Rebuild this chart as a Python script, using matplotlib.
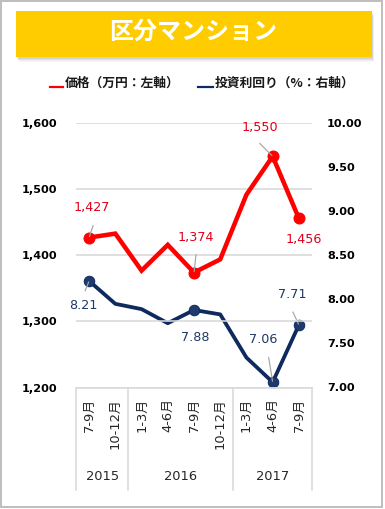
import matplotlib
matplotlib.use("Agg")
import matplotlib.pyplot as plt
import matplotlib.patches as patches
from matplotlib.lines import Line2D

W, H = 385, 509
DPI = 72

months = ["7-9月", "10-12月", "1-3月", "4-6月", "7-9月", "10-12月",
          "1-3月", "4-6月", "7-9月"]
years = ["2015", "2016", "2017"]
year_first = [0, 2, 6]
year_last = [1, 5, 8]
price = [1427, 1433, 1377, 1416, 1374, 1394, 1492, 1550, 1456]
yields = [8.21, 7.95, 7.89, 7.73, 7.88, 7.83, 7.34, 7.06, 7.71]

price_ticks = [1200, 1300, 1400, 1500, 1600]
yield_ticks = [7.0, 7.5, 8.0, 8.5, 9.0, 9.5, 10.0]

# labelled points: index -> (text offset, leader end offset) in points (= px)
price_lab = {0: ((3, 30), (4, 12)), 4: ((2, 35), (2, 18)),
             7: ((-13, 29), (-13, 13)), 8: ((5, -21), None)}
yield_lab = {0: ((-6, -25), (-4, -10)), 4: ((1, -27), None),
             7: ((-9, 43), (-4, 25)), 8: ((-7, 30), (-6, 13))}

RED = "#FF0000"
NAVY = "#0E2A5E"
GRID = "#D9D9D9"

plt.rcParams["font.family"] = ["DejaVu Sans", "Noto Sans CJK JP"]

def fx(x):
    return x / W

def fy(y):
    return 1 - y / H

fig = plt.figure(figsize=(W / DPI, H / DPI), dpi=DPI)
fig.patch.set_facecolor("white")

# outer frame
fig.add_artist(patches.Rectangle((fx(1), fy(507)), fx(381), 506 / H,
                                 transform=fig.transFigure, fill=False,
                                 edgecolor="#BFBFBF", lw=2))

# title box with soft shadow
for k, a in [(5, 0.06), (4, 0.08), (3, 0.10), (2, 0.14)]:
    fig.add_artist(patches.Rectangle((fx(16 + k / 2), fy(56.7 + k)), fx(355.7), 45.7 / H,
                                     transform=fig.transFigure, facecolor="#808080",
                                     edgecolor="none", alpha=a))
fig.add_artist(patches.Rectangle((fx(16), fy(56.7)), fx(355.7), 45.7 / H,
                                 transform=fig.transFigure, facecolor="#FFCC00",
                                 edgecolor="none"))
fig.text(fx(193.5), fy(32), "区分マンション", color="white", fontsize=24,
         fontweight="bold", family=["Noto Sans CJK JP"], ha="center", va="center")

# legend
fig.add_artist(Line2D([fx(50), fx(63)], [fy(87), fy(87)], color=RED, lw=2.2,
                      transform=fig.transFigure))
fig.text(fx(65), fy(83), "価格（万円：左軸）", fontsize=12.8, fontweight="bold",
         family=["Noto Sans CJK JP"], color="#1A1A1A", ha="left", va="center")
fig.add_artist(Line2D([fx(198), fx(213)], [fy(87), fy(87)], color=NAVY, lw=2.2,
                      transform=fig.transFigure))
fig.text(fx(215), fy(83), "投資利回り（%：右軸）", fontsize=12.8, fontweight="bold",
         family=["Noto Sans CJK JP"], color="#1A1A1A", ha="left", va="center")

# plot area
top, bottom = 123.3, 387.5
ax = fig.add_axes([fx(76), fy(bottom), (312 - 76) / W, (bottom - top) / H])
ax2 = ax.twinx()
ax.set_zorder(2)
ax2.set_zorder(1)
ax.patch.set_visible(False)

x = list(range(len(months)))
ax.set_xlim(-0.5, len(months) - 0.5)
ax.set_ylim(price_ticks[0], price_ticks[-1])
ax2.set_ylim(yield_ticks[0], yield_ticks[-1])

ax.set_yticks(price_ticks)
ax.set_yticklabels([f"{v:,}" for v in price_ticks])
ax2.set_yticks(yield_ticks)
ax2.set_yticklabels([f"{v:.2f}" for v in yield_ticks])
ax.yaxis.grid(True, color=GRID, lw=1.6)
ax.set_axisbelow(True)
ax.tick_params(axis="y", length=0, pad=18.5, labelsize=11.3, labelcolor="black")
ax2.tick_params(axis="y", length=0, pad=15, labelsize=11.3, labelcolor="black")
for t in ax.get_yticklabels() + ax2.get_yticklabels():
    t.set_fontweight("bold")

for a in (ax, ax2):
    for s in a.spines.values():
        s.set_visible(False)
ax.spines["bottom"].set_visible(True)
ax.spines["bottom"].set_color(GRID)
ax.spines["bottom"].set_linewidth(1.6)

ax.set_xticks(x)
ax.set_xticklabels(months, rotation=90, fontsize=13, color="#262626")
ax.tick_params(axis="x", length=0, pad=10.5)
ax2.tick_params(axis="x", length=0)

# category separators and year labels
xt = ax.get_xaxis_transform()
drop = (490 - bottom) / (bottom - top)
for b in [year_first[0] - 0.5] + [l + 0.5 for l in year_last]:
    ax.plot([b, b], [0, -drop], color=GRID, lw=1.6, transform=xt, clip_on=False)
for yr, f, l in zip(years, year_first, year_last):
    ax.text((f + l) / 2, -(477 - bottom) / (bottom - top), yr, transform=xt,
            ha="center", va="center", fontsize=13, color="#262626")

# series
ax.plot(x, price, color=RED, lw=4.5, marker="o", ms=11, markevery=list(price_lab),
        solid_joinstyle="miter", zorder=3)
ax2.plot(x, yields, color=NAVY, lw=3.8, marker="o", ms=10.5, mfc="#1F3B6E",
         mec=NAVY, markevery=list(yield_lab), zorder=3)

def label(a, vals, labs, color, fmt):
    for i, (toff, lead) in labs.items():
        if lead is not None:
            a.annotate("", xy=(i, vals[i]), xytext=lead, textcoords="offset points",
                       arrowprops=dict(arrowstyle="-", color="#A6A6A6", lw=1.2,
                                       shrinkA=0, shrinkB=1), zorder=5)
        a.annotate(fmt(vals[i]), xy=(i, vals[i]), xytext=toff,
                   textcoords="offset points", ha="center", va="center",
                   fontsize=12.8, color=color, zorder=6)

label(ax, price, price_lab, "#E0001B", lambda v: f"{v:,}")
label(ax2, yields, yield_lab, "#1F3864", lambda v: f"{v:.2f}")

fig.savefig("out.png", dpi=DPI)
